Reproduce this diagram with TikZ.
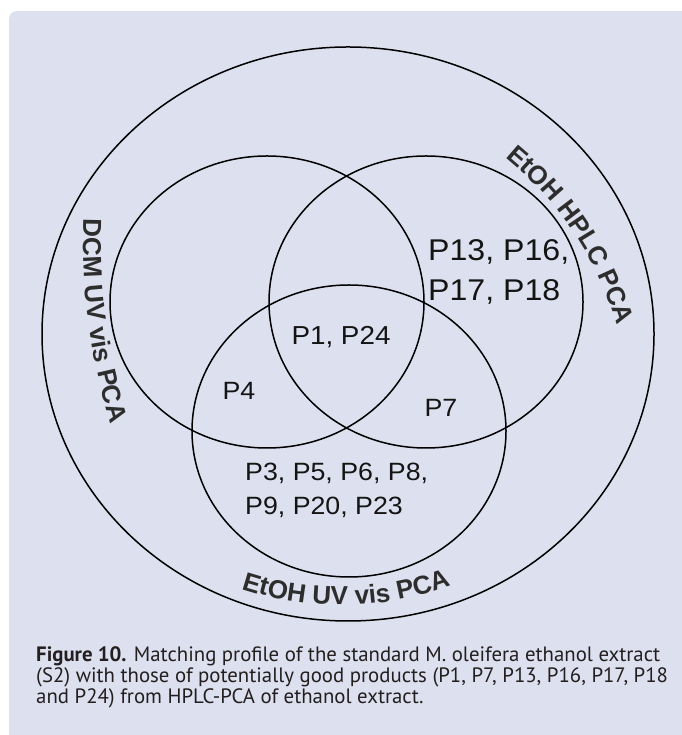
\documentclass[tikz,border=0pt]{standalone}
\usepackage{fontspec}
\setmainfont{Liberation Sans}
\newfontfamily\captionfont{PT Sans}
\usepackage{tikz}
\usetikzlibrary{decorations.text}
\usetikzlibrary{positioning}
\definecolor{PanelColor}{RGB}{221,224,238}
\definecolor{InkColor}{RGB}{20,20,20}
\definecolor{LabelColor}{RGB}{45,45,45}
\definecolor{CaptionColor}{RGB}{35,31,32}
\tikzstyle{venn} = [draw=black, line width=1.5pt]
\tikzstyle{plabel} = [text=InkColor, align=left, inner sep=0pt, xscale=1.07]
\tikzstyle{arclabel} = [decorate, decoration={text along path, text align=center, text color=LabelColor}]
\newcommand{\arcfont}{\fontsize{26}{26}\selectfont\bfseries}

\begin{document}
\begin{tikzpicture}[x=1pt, y=1pt]
  \useasboundingbox (0,0) rectangle (681,735);
  \fill[white] (0,0) rectangle (681,735);
  \fill[PanelColor, rounded corners=8pt] (9,-20) rectangle (700,724);

  \draw[venn] (348,401) ellipse [x radius=306pt, y radius=287pt];
  \draw[venn] (267,433) ellipse [x radius=157pt, y radius=146pt];
  \draw[venn] (426,433) ellipse [x radius=157pt, y radius=146pt];
  \draw[venn] (349,304) ellipse [x radius=157pt, y radius=146pt];

  \path[arclabel, decoration={text={|\arcfont|DCM UV vis PCA}}]
    (700,495) ++(172.7:617pt) arc[start angle=172.7, end angle=202.7, radius=617pt];
  \path[arclabel, decoration={text={|\arcfont|EtOH HPLC PCA}}]
    (286,310) ++(63.7:346pt) arc[start angle=63.7, end angle=3.7, radius=346pt];
  \path[arclabel, decoration={text={|\arcfont|EtOH UV vis PCA}}]
    (341,448) ++(241:318pt) arc[start angle=241, end angle=301, radius=318pt];

  \node[plabel, font=\fontsize{26}{26}\selectfont] (p1) at (341,398) {P1, P24};
  \node[plabel, font=\fontsize{25}{25}\selectfont] (p4) at (239,344) {P4};
  \node[plabel, font=\fontsize{25}{25}\selectfont] (p7) at (441,327) {P7};
  \node[plabel, font=\fontsize{30}{40}\selectfont, anchor=west] (p13) at (428,463) {P13, P16,\\P17, P18};
  \node[plabel, font=\fontsize{25}{34}\selectfont, anchor=west] (p3) at (245,245) {P3, P5, P6, P8,\\P9, P20, P23};

  \node[anchor=north west, align=left, inner sep=0pt, text=CaptionColor,
        font=\captionfont\fontsize{20.8}{21}\selectfont] (caption) at (36,89)
    {\textbf{Figure 10.} Matching profile of the standard M. oleifera ethanol extract\\
     (S2) with those of potentially good products (P1, P7, P13, P16, P17, P18\\
     and P24) from HPLC-PCA of ethanol extract.};
\end{tikzpicture}
\end{document}
